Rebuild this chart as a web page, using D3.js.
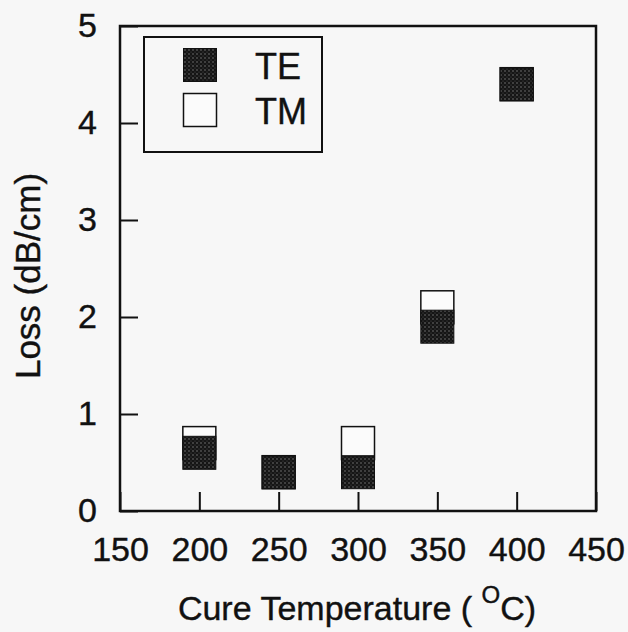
<!DOCTYPE html>
<html>
<head>
<meta charset="utf-8">
<script src="https://cdn.jsdelivr.net/npm/d3@7"></script>
<style>
  body { margin: 0; background: #f7f7f7; }
  svg { display: block; font-family: "Liberation Sans", Arial, sans-serif; }
  text { stroke: #111; stroke-width: 0.4px; }
</style>
</head>
<body>
<svg id="svg"></svg>
<script>
/*global d3*/

// data
const temps = [200, 250, 300, 350, 400];
const lossTE = [0.6, 0.4, 0.4, 1.9, 4.4];
const lossTM = [0.7, 0.4, 0.7, 2.1, 4.4];
const xTicks = [150, 200, 250, 300, 350, 400, 450];
const yTicks = [0, 1, 2, 3, 4, 5];
const seriesNames = ['TE', 'TM'];

const width = 628;
const height = 632;

var svg = d3.select('#svg')
    .attr('width', width)
    .attr('height', height);

// halftone fill for the TE squares
const defs = svg.append('defs');
const pat = defs.append('pattern')
    .attr('id', 'dots')
    .attr('patternUnits', 'userSpaceOnUse')
    .attr('width', 4)
    .attr('height', 4);
pat.append('rect').attr('width', 4).attr('height', 4).attr('fill', '#151515');
pat.append('circle').attr('cx', 1).attr('cy', 1).attr('r', 0.7).attr('fill', '#8a8a8a');
pat.append('circle').attr('cx', 3).attr('cy', 3).attr('r', 0.5).attr('fill', '#5a5a5a');

const margin = {top: 26, left: 120, right: 32, bottom: 121};
const innerWidth = width - margin.left - margin.right;
const innerHeight = height - margin.top - margin.bottom;

const xScale = d3.scaleLinear()
    .domain([150, 450])
    .range([0, innerWidth]);

const yScale = d3.scaleLinear()
    .domain([0, 5])
    .range([innerHeight, 0]);

const g = svg.append('g')
    .attr('transform', `translate(${margin.left},${margin.top})`);

const xAxisG = g.append('g')
    .attr('transform', `translate(0,${innerHeight})`)
    .call(d3.axisBottom(xScale)
        .tickValues(xTicks)
        .tickFormat(d3.format('d'))
        .tickSizeInner(-19)
        .tickSizeOuter(0)
        .tickPadding(26));

const yAxisG = g.append('g')
    .call(d3.axisLeft(yScale)
        .tickValues(yTicks)
        .tickFormat(d3.format('d'))
        .tickSizeInner(-18)
        .tickSizeOuter(0)
        .tickPadding(23));

[xAxisG, yAxisG].forEach(a => {
    a.select('.domain').remove();
    a.selectAll('.tick line').attr('stroke', '#111').attr('stroke-width', 2);
    a.selectAll('.tick text')
        .attr('fill', '#111')
        .style('font-size', '34px')
        .style('font-family', '"Liberation Sans", Arial, sans-serif');
});

// frame
g.append('rect')
    .attr('width', innerWidth)
    .attr('height', innerHeight)
    .attr('fill', 'none')
    .attr('stroke', '#111')
    .attr('stroke-width', 2.5);

const size = 33;

// TM first, TE drawn over it
g.selectAll('rect.tm').data(temps)
    .enter().append('rect')
    .attr('class', 'tm')
    .attr('x', d => xScale(d) - size / 2)
    .attr('y', (d, i) => yScale(lossTM[i]) - size / 2)
    .attr('width', size)
    .attr('height', size)
    .attr('fill', '#fbfbfb')
    .attr('stroke', '#111')
    .attr('stroke-width', 1.5);

g.selectAll('rect.te').data(temps)
    .enter().append('rect')
    .attr('class', 'te')
    .attr('x', d => xScale(d) - size / 2)
    .attr('y', (d, i) => yScale(lossTE[i]) - size / 2)
    .attr('width', size)
    .attr('height', size)
    .attr('fill', 'url(#dots)')
    .attr('stroke', '#111')
    .attr('stroke-width', 1);

// legend
const legend = svg.append('g');
legend.append('rect')
    .attr('x', 144)
    .attr('y', 37)
    .attr('width', 178)
    .attr('height', 115)
    .attr('fill', 'none')
    .attr('stroke', '#111')
    .attr('stroke-width', 2);

const item = legend.selectAll('g.item').data(seriesNames)
    .enter().append('g')
    .attr('class', 'item')
    .attr('transform', (d, i) => `translate(0,${65 + i * 45})`);

item.append('rect')
    .attr('x', 200 - size / 2)
    .attr('y', -size / 2)
    .attr('width', size)
    .attr('height', size)
    .attr('fill', d => d === 'TE' ? 'url(#dots)' : '#fbfbfb')
    .attr('stroke', '#111')
    .attr('stroke-width', d => d === 'TE' ? 1 : 1.5);

item.append('text')
    .attr('x', 255)
    .attr('y', 14)
    .attr('fill', '#111')
    .style('font-size', '36px')
    .text(d => d);

// axis titles
svg.append('text')
    .attr('transform', 'translate(40,276) rotate(-90)')
    .attr('text-anchor', 'middle')
    .attr('fill', '#111')
    .style('font-size', '35px')
    .text('Loss (dB/cm)');

const xTitle = svg.append('text')
    .attr('x', 357)
    .attr('y', 620)
    .attr('text-anchor', 'middle')
    .attr('fill', '#111')
    .style('font-size', '34px');
xTitle.append('tspan').text('Cure Temperature ( ');
xTitle.append('tspan').attr('dy', -17).style('font-size', '24px').text('O');
xTitle.append('tspan').attr('dy', 17).text('C)');
</script>
</body>
</html>
